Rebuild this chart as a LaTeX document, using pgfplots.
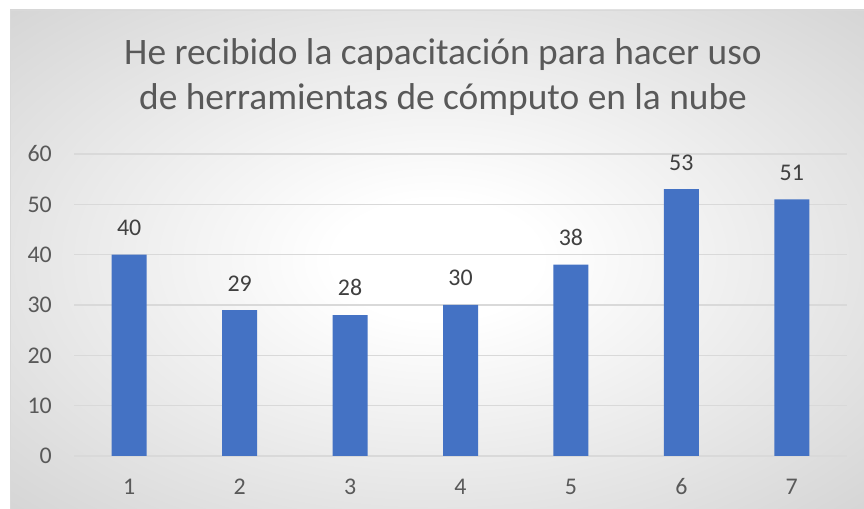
\documentclass[border=0pt]{standalone}
\usepackage{pgfplots}
\pgfplotsset{compat=1.18}
\usepackage{fontspec}
\setmainfont{Carlito}
\definecolor{bgedge}{HTML}{A2A2A2}
\definecolor{titlegray}{HTML}{595959}
\definecolor{labgray}{HTML}{404040}
\definecolor{gridc}{HTML}{D9D9D9}
\definecolor{barblue}{HTML}{4472C4}
\pgfdeclareradialshading{bgshade}{\pgfpoint{0bp}{0bp}}{color(0bp)=(white); color(6bp)=(white); color(72bp)=(bgedge)}
\begin{document}
\begin{tikzpicture}[x=1bp,y=1bp]
\path[use as bounding box] (0,0) rectangle (864,509);
\fill[white] (0,0) rectangle (864,509);
\shade[shading=bgshade] (10,0) rectangle (864,499);
\draw[color=gridc, line width=1bp] (10.5,0) -- (10.5,498.5) -- (864,498.5);
\node[font=\fontsize{37.5}{44}\selectfont, text=titlegray, anchor=base, inner sep=0pt] at (443,444) {He recibido la capacitación para hacer uso};
\node[font=\fontsize{37.5}{44}\selectfont, text=titlegray, anchor=base, inner sep=0pt] at (443,399) {de herramientas de cómputo en la nube};
\begin{axis}[
  at={(74bp,53bp)}, anchor=south west,
  scale only axis, width=773bp, height=302bp,
  xmin=0.5, xmax=7.5, ymin=0, ymax=60,
  xtick={1,...,7}, ytick={0,10,...,60},
  axis line style={draw=none},
  major tick length=0pt,
  ymajorgrids, major grid style={gridc, line width=1.2bp},
  ticklabel style={font=\fontsize{24}{28}\selectfont, text=titlegray, inner sep=0pt},
  yticklabel style={anchor=east, xshift=-22bp},
  xticklabel style={anchor=base, yshift=-38.5bp},
  /pgf/number format/assume math mode=true,
  clip=false,
  ybar, bar width=35bp,
  nodes near coords,
  nodes near coords style={font=\fontsize{24}{28}\selectfont, text=labgray, anchor=south, inner sep=0pt, yshift=18.7bp},
]
\addplot[fill=barblue, draw=none] coordinates {(1,40) (2,29) (3,28) (4,30) (5,38) (6,53) (7,51)};
\end{axis}
\end{tikzpicture}
\end{document}
